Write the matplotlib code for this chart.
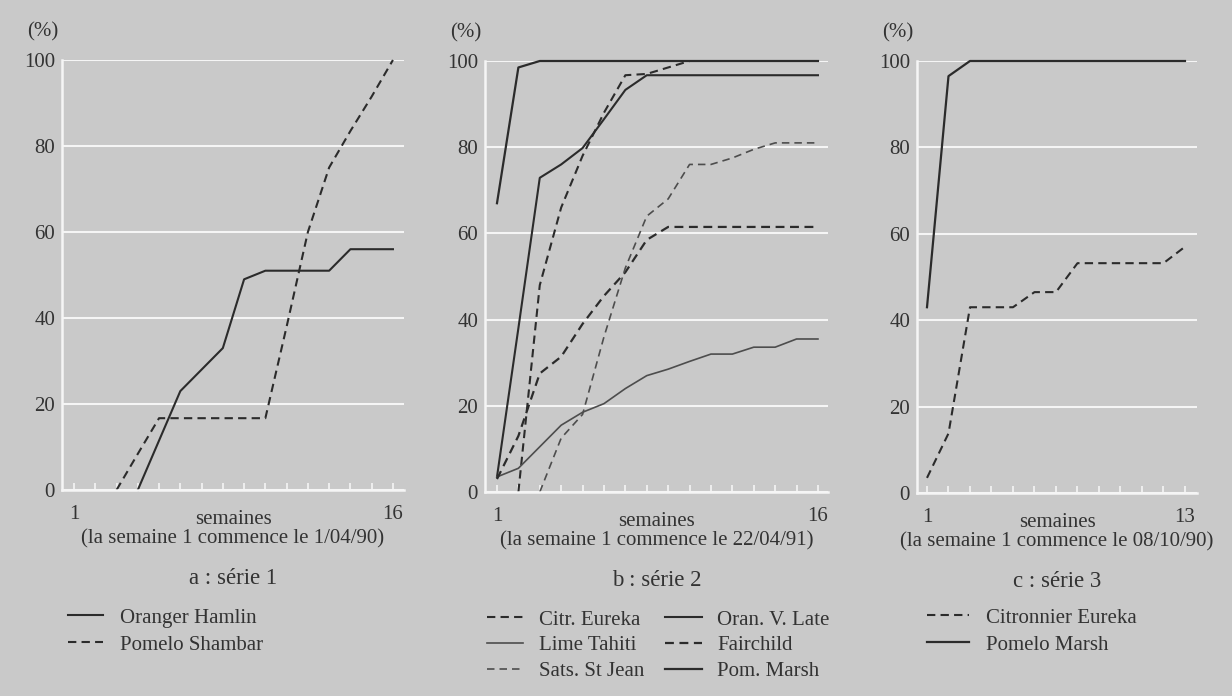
import numpy as np
import matplotlib.pyplot as plt

nan = np.nan

# series 1 (weeks 1..16)
weeks_a = np.arange(1, 17)
hamlin = [nan, nan, nan, 0, 11.5, 23, 28, 33, 49, 51, 51, 51, 51, 56, 56, 56]
shambar = [nan, nan, 0, 8.4, 16.7, 16.7, 16.7, 16.7, 16.7, 16.7, 38, 60, 75, 83.5, 91.5, 100]

# series 2 (weeks 1..16)
weeks_b = np.arange(1, 17)
citr_eureka = [nan, 0, 48, 66, 78, 88, 96.7, 97, 98.5, 100, nan, nan, nan, nan, nan, nan]
oran_v_late = [3.5, 38, 72.9, 76, 79.8, 86.5, 93.3, 96.7, 96.7, 96.7, 96.7, 96.7, 96.7, 96.7, 96.7, 96.7]
lime_tahiti = [3.5, 5.5, 10.5, 15.5, 18.5, 20.5, 24, 27, 28.5, 30.3, 32, 32, 33.6, 33.6, 35.5, 35.5]
fairchild = [3, 13, 27.5, 31.4, 39, 45.5, 51, 58.5, 61.5, 61.5, 61.5, 61.5, 61.5, 61.5, 61.5, 61.5]
sats_st_jean = [nan, nan, 0, 12.5, 18, 36, 52, 64, 68, 76, 76, 77.5, 79.5, 81, 81, 81]
pom_marsh = [67, 98.5, 100, 100, 100, 100, 100, 100, 100, 100, 100, 100, 100, 100, 100, 100]

# series 3 (weeks 1..13)
weeks_c = np.arange(1, 14)
citronnier_eureka = [3.5, 13.8, 43, 43, 43, 46.5, 46.5, 53.2, 53.2, 53.2, 53.2, 53.2, 57]
pomelo_marsh = [43, 96.5, 100, 100, 100, 100, 100, 100, 100, 100, 100, 100, 100]

start_dates = ["1/04/90", "22/04/91", "08/10/90"]
panel_titles = ["a : série 1", "b : série 2", "c : série 3"]

BG = "#c9c9c9"
GRID = "#f5f5f5"
DARK = "#2b2b2b"
MID = "#4d4d4d"
TXT = "#333333"
FS = 15

plt.rcParams["font.family"] = ["Liberation Serif", "DejaVu Serif"]
plt.rcParams["text.color"] = TXT

W, H = 1232, 696
fig = plt.figure(figsize=(W / 100, H / 100), dpi=100, facecolor=BG)


def add_axes(left, right, top, bottom):
    return fig.add_axes([left / W, 1 - bottom / H, (right - left) / W, (bottom - top) / H])


def style_axes(ax, weeks, xlim, date, title):
    ax.set_facecolor(BG)
    ax.set_xlim(*xlim)
    ax.set_ylim(0, 100)
    for s in ["top", "right"]:
        ax.spines[s].set_visible(False)
    for s in ["left", "bottom"]:
        ax.spines[s].set_color(GRID)
        ax.spines[s].set_linewidth(1.8)
    ax.set_yticks([0, 20, 40, 60, 80, 100])
    ax.yaxis.grid(True, color=GRID, linewidth=1.5)
    ax.set_axisbelow(True)
    labels = [""] * len(weeks)
    labels[0] = "1"
    labels[-1] = str(weeks[-1])
    ax.set_xticks(weeks)
    ax.set_xticklabels(labels)
    ax.tick_params(axis="x", direction="in", length=5, width=1.2, color=GRID,
                   pad=11, labelsize=FS, labelcolor=TXT)
    ax.tick_params(axis="y", length=0, pad=5, labelsize=FS, labelcolor=TXT)
    ax.annotate("(%)", xy=(0, 1), xycoords="axes fraction", xytext=(-14, 20),
                textcoords="offset points", ha="center", va="center", fontsize=FS)
    ax.annotate("semaines", xy=(0.5, 0), xycoords="axes fraction", xytext=(0, -21),
                textcoords="offset points", ha="center", va="center", fontsize=FS)
    ax.annotate(f"(la semaine 1 commence le {date})", xy=(0.5, 0), xycoords="axes fraction",
                xytext=(0, -35), textcoords="offset points", ha="center", va="center",
                fontsize=FS)
    ax.annotate(title, xy=(0.5, 0), xycoords="axes fraction", xytext=(0, -64),
                textcoords="offset points", ha="center", va="center", fontsize=FS + 1.5)


dash = (4, 2.5)

# panel a
ax_a = add_axes(62, 404, 60, 490)
style_axes(ax_a, weeks_a, (0.436, 16.52), start_dates[0], panel_titles[0])
l1, = ax_a.plot(weeks_a, hamlin, color=DARK, lw=1.5, clip_on=False, label="Oranger Hamlin")
l2, = ax_a.plot(weeks_a, shambar, color=DARK, lw=1.5, dashes=dash, clip_on=False,
                label="Pomelo Shambar")
ax_a.legend(handles=[l1, l2], loc="upper left", bbox_to_anchor=(68 / W, 1 - 608 / H),
            bbox_transform=fig.transFigure, frameon=False, borderpad=0, borderaxespad=0,
            handlelength=1.7, handletextpad=0.8, labelspacing=0.36, fontsize=FS)

# panel b
ax_b = add_axes(485, 828, 61, 492)
style_axes(ax_b, weeks_b, (0.44, 16.47), start_dates[1], panel_titles[1])
b1, = ax_b.plot(weeks_b, citr_eureka, color=DARK, lw=1.5, dashes=dash, clip_on=False,
                label="Citr. Eureka")
b2, = ax_b.plot(weeks_b, oran_v_late, color=DARK, lw=1.5, clip_on=False, label="Oran. V. Late")
b3, = ax_b.plot(weeks_b, lime_tahiti, color=MID, lw=1.2, clip_on=False, label="Lime Tahiti")
b4, = ax_b.plot(weeks_b, fairchild, color=DARK, lw=1.6, dashes=dash, clip_on=False,
                label="Fairchild")
b5, = ax_b.plot(weeks_b, sats_st_jean, color=MID, lw=1.2, dashes=(4.5, 3), clip_on=False,
                label="Sats. St Jean")
b6, = ax_b.plot(weeks_b, pom_marsh, color=DARK, lw=1.6, clip_on=False, label="Pom. Marsh")
ax_b.legend(handles=[b1, b3, b5, b2, b4, b6], ncol=2, loc="upper left",
            bbox_to_anchor=(487 / W, 1 - 610 / H), bbox_transform=fig.transFigure,
            frameon=False, borderpad=0, borderaxespad=0, handlelength=1.75,
            handletextpad=0.75, labelspacing=0.3, columnspacing=1.0, fontsize=FS)

# panel c
ax_c = add_axes(917, 1197, 61, 493)
style_axes(ax_c, weeks_c, (0.535, 13.56), start_dates[2], panel_titles[2])
c1, = ax_c.plot(weeks_c, citronnier_eureka, color=DARK, lw=1.5, dashes=dash, clip_on=False,
                label="Citronnier Eureka")
c2, = ax_c.plot(weeks_c, pomelo_marsh, color=DARK, lw=1.6, clip_on=False, label="Pomelo Marsh")
ax_c.legend(handles=[c1, c2], loc="upper left", bbox_to_anchor=(927 / W, 1 - 608 / H),
            bbox_transform=fig.transFigure, frameon=False, borderpad=0, borderaxespad=0,
            handlelength=2.0, handletextpad=0.85, labelspacing=0.36, fontsize=FS)

fig.savefig("out.png", dpi=100, facecolor=BG)
